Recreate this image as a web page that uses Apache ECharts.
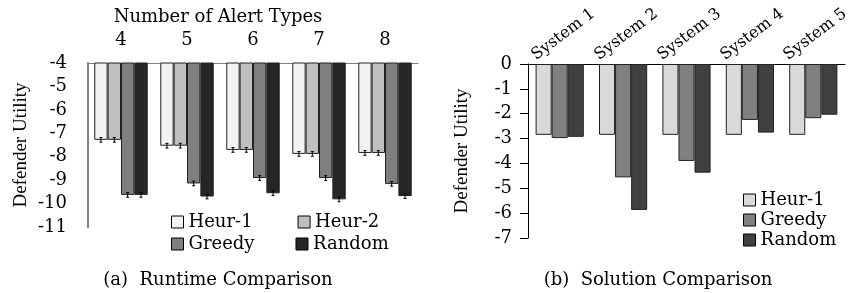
<!DOCTYPE html>
<html>
<head>
<meta charset="utf-8">
<script src="https://cdn.jsdelivr.net/npm/echarts@6/dist/echarts.min.js"></script>
<style>
  html, body { margin: 0; padding: 0; background: #fff; }
  #chart { width: 852px; height: 293px; }
</style>
</head>
<body>
<div id="chart"></div>
<script>
// (a) runtime comparison
const alertTypes = ['4', '5', '6', '7', '8']
const heur1A = [-7.28, -7.53, -7.71, -7.88, -7.84]
const heur2A = [-7.28, -7.53, -7.71, -7.88, -7.84]
const greedyA = [-9.63, -9.14, -8.91, -8.91, -9.16]
const randomA = [-9.63, -9.70, -9.56, -9.82, -9.68]
const errA = [0.1, 0.1, 0.1, 0.1, 0.1]
const ticksA = ['-4', '-5', '-6', '-7', '-8', '-9', '-10', '-11']

// (b) solution comparison
const systems = ['System 1', 'System 2', 'System 3', 'System 4', 'System 5']
const heur1B = [-2.85, -2.85, -2.85, -2.85, -2.85]
const greedyB = [-2.98, -4.56, -3.90, -2.25, -2.18]
const randomB = [-2.93, -5.87, -4.37, -2.76, -2.04]
const ticksB = ['0', '-1', '-2', '-3', '-4', '-5', '-6', '-7']

const serif = 'DejaVu Serif'
const times = 'Liberation Serif'
const gapA = 0.19
const gapB = 0.24

function errorBars(values, errs, idx, count) {
  return {
    type: 'custom',
    xAxisIndex: 0,
    yAxisIndex: 0,
    z: 5,
    silent: true,
    clip: false,
    data: values.map((v, i) => [i, v, errs[i]]),
    renderItem(params, api) {
      const band = api.size([1, 0])[0]
      const bw = band * (1 - gapA) / count
      const off = -band * (1 - gapA) / 2 + bw * (idx + 0.5)
      const hi = api.coord([api.value(0), api.value(1) + api.value(2)])
      const lo = api.coord([api.value(0), api.value(1) - api.value(2)])
      const x = hi[0] + off
      const st = { stroke: '#000', lineWidth: 1 }
      return {
        type: 'group',
        children: [
          { type: 'line', shape: { x1: x, y1: hi[1], x2: x, y2: lo[1] }, style: st },
          { type: 'line', shape: { x1: x - 1.5, y1: hi[1], x2: x + 1.5, y2: hi[1] }, style: st },
          { type: 'line', shape: { x1: x - 1.5, y1: lo[1], x2: x + 1.5, y2: lo[1] }, style: st }
        ]
      }
    }
  }
}

function barA(name, data, color) {
  return {
    name, type: 'bar', xAxisIndex: 0, yAxisIndex: 0, data,
    barGap: 0, barCategoryGap: (gapA * 100) + '%',
    itemStyle: { color, borderColor: '#222', borderWidth: 1 }
  }
}
function barB(name, data, color) {
  return {
    name, type: 'bar', xAxisIndex: 1, yAxisIndex: 1, data,
    barGap: 0, barCategoryGap: (gapB * 100) + '%',
    itemStyle: { color, borderColor: '#222', borderWidth: 1 }
  }
}

const textBase = { color: '#000', fontFamily: serif, fontSize: 18 }
const legendBase = {
  icon: 'rect', itemWidth: 12, itemHeight: 12,
  textStyle: textBase, itemStyle: { borderColor: '#000', borderWidth: 1 }
}

const chart = echarts.init(document.getElementById('chart'), null, { renderer: 'canvas' })
chart.setOption({
  animation: false,
  title: [
    { text: '(a)  Runtime Comparison', left: 213, top: 266, textAlign: 'center',
      textStyle: Object.assign({}, textBase, { fontWeight: 'normal' }) },
    { text: '(b)  Solution Comparison', left: 653, top: 266, textAlign: 'center',
      textStyle: Object.assign({}, textBase, { fontWeight: 'normal' }) }
  ],
  legend: [
    Object.assign({ data: ['Heur-1', 'Heur-2'], left: 166, top: 208, itemGap: 45 }, legendBase),
    Object.assign({ data: ['Greedy', 'Random'], left: 166, top: 230, itemGap: 41 }, legendBase),
    Object.assign({
      data: [
        { name: 'Heur-1', itemStyle: { color: '#d9d9d9' } },
        { name: 'Greedy', itemStyle: { color: '#808080' } },
        { name: 'Random', itemStyle: { color: '#404040' } }
      ],
      orient: 'vertical', left: 738, top: 186, itemGap: 2
    }, legendBase)
  ],
  grid: [
    { left: 88, top: 63, width: 330, height: 164 },
    { left: 528, top: 64, width: 317, height: 174 },
    { left: 502, top: 64, width: 317, height: 174 }
  ],
  xAxis: [
    {
      gridIndex: 0, type: 'category', position: 'top', data: alertTypes,
      name: 'Number of Alert Types', nameLocation: 'middle', nameGap: 36,
      nameTextStyle: Object.assign({}, textBase, { padding: [0, 70, 0, 0] }),
      axisLine: { onZero: false, lineStyle: { color: '#808080', width: 1 } },
      axisTick: { show: false },
      axisLabel: Object.assign({}, textBase, { margin: 14 })
    },
    {
      gridIndex: 1, type: 'category', position: 'top', data: systems,
      axisLine: { onZero: false, lineStyle: { color: '#000', width: 1 } },
      axisTick: { show: false },
      axisLabel: { show: false }
    },
    {
      gridIndex: 2, type: 'category', position: 'top', data: systems,
      axisLine: { show: false },
      axisTick: { show: false },
      axisLabel: Object.assign({}, textBase, { fontSize: 16, rotate: 37, margin: 7, interval: 0 })
    }
  ],
  yAxis: [
    {
      gridIndex: 0, type: 'value', min: -11, max: -4, interval: 1,
      name: 'Defender Utility', nameLocation: 'middle', nameGap: 57,
      nameTextStyle: { color: '#000', fontFamily: times, fontSize: 19 },
      axisLine: { show: true, lineStyle: { color: '#808080', width: 2 } },
      axisTick: { show: false },
      splitLine: { show: false },
      axisLabel: Object.assign({}, textBase, { margin: 21,
        formatter: v => ticksA[Math.round(-4 - v)] })
    },
    {
      gridIndex: 1, type: 'value', min: -7, max: 0, interval: 1,
      name: 'Defender Utility', nameLocation: 'middle', nameGap: 56,
      nameTextStyle: { color: '#000', fontFamily: times, fontSize: 19 },
      axisLine: { show: true, lineStyle: { color: '#000', width: 1 } },
      axisTick: { show: true, length: 8, lineStyle: { color: '#000', width: 1 } },
      splitLine: { show: false },
      axisLabel: Object.assign({}, textBase, { margin: 16,
        formatter: v => ticksB[Math.round(-v)] })
    },
    { gridIndex: 2, type: 'value', show: false, min: -7, max: 0 }
  ],
  series: [
    barA('Heur-1', heur1A, '#f2f2f2'),
    barA('Heur-2', heur2A, '#bfbfbf'),
    barA('Greedy', greedyA, '#7f7f7f'),
    barA('Random', randomA, '#262626'),
    errorBars(heur1A, errA, 0, 4),
    errorBars(heur2A, errA, 1, 4),
    errorBars(greedyA, errA, 2, 4),
    errorBars(randomA, errA, 3, 4),
    barB('Heur-1', heur1B, '#d9d9d9'),
    barB('Greedy', greedyB, '#808080'),
    barB('Random', randomB, '#404040')
  ]
})
</script>
</body>
</html>
